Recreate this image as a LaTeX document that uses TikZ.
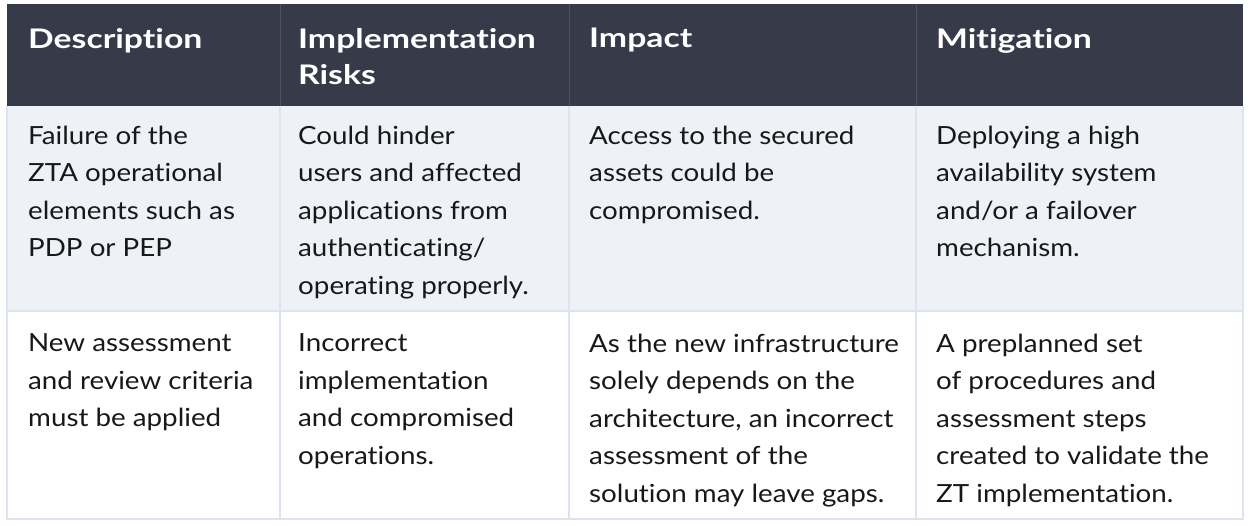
\documentclass[tikz,border=0pt]{standalone}
\usepackage{fontspec}
\setmainfont{Lato}[FakeStretch=1.11, Ligatures=NoCommon]
\newfontfamily\headfont{Lato}[FakeStretch=1.25, Ligatures=NoCommon]
\definecolor{headbg}{RGB}{54,58,73}
\definecolor{rowbg}{RGB}{238,242,247}
\definecolor{gridline}{RGB}{221,227,239}
\definecolor{bodytext}{RGB}{24,24,26}
\tikzset{
  headtext/.style={anchor=north west, inner sep=0pt, align=left, text=white,
    font=\headfont\fontsize{27}{36}\selectfont\bfseries},
  celltext/.style={anchor=north west, inner sep=0pt, align=left, text=bodytext,
    font=\fontsize{25}{37.5}\selectfont},
  gridrule/.style={gridline, line width=2.5pt},
}
\begin{document}
\begin{tikzpicture}[x=1pt,y=-1pt]
  %%%%% START %%%%%
  \useasboundingbox (0,0) rectangle (1249,525);

  \fill[headbg] (7,4) rectangle (1243,106);
  \fill[rowbg] (7,106) rectangle (1243,311);
  \fill[white] (7,311) rectangle (1243,519);

  \draw[gridrule] (7,106) -- (7,519) -- (1243,519) -- (1243,106);
  \draw[gridrule] (7,311) -- (1243,311);
  \foreach \x in {280,569,916} {
    \draw[gridrule] (\x,106) -- (\x,519);
    \draw[headbg!88!white, line width=1pt] (\x,4) -- (\x,106);
  }

  % header
  \node[headtext] (hdesc) at (28,28) {Description};
  \node[headtext] (hrisk) at (298,28) {Implementation\\Risks};
  \node[headtext] (himp) at (589,28) {Impact};
  \node[headtext] (hmit) at (936,28) {Mitigation};

  % first row
  \node[celltext] (desca) at (28,125.5) {Failure of the\\ZTA operational\\elements such as\\PDP or PEP};
  \node[celltext] (riska) at (298,125.5) {Could hinder\\users and affected\\applications from\\authenticating/\\operating properly.};
  \node[celltext] (impa) at (589,125.5) {Access to the secured\\assets could be\\compromised.};
  \node[celltext] (mita) at (936,125.5) {Deploying a high\\availability system\\and/or a failover\\mechanism.};

  % second row
  \node[celltext] (descb) at (28,333.5) {New assessment\\and review criteria\\must be applied};
  \node[celltext] (riskb) at (298,333.5) {Incorrect\\implementation\\and compromised\\operations.};
  \node[celltext] (impb) at (589,333.5) {As the new infrastructure\\solely depends on the\\architecture, an incorrect\\assessment of the\\solution may leave gaps.};
  \node[celltext] (mitb) at (936,333.5) {A preplanned set\\of procedures and\\assessment steps\\created to validate the\\ZT implementation.};

  %%%%% END %%%%%
\end{tikzpicture}
\end{document}
